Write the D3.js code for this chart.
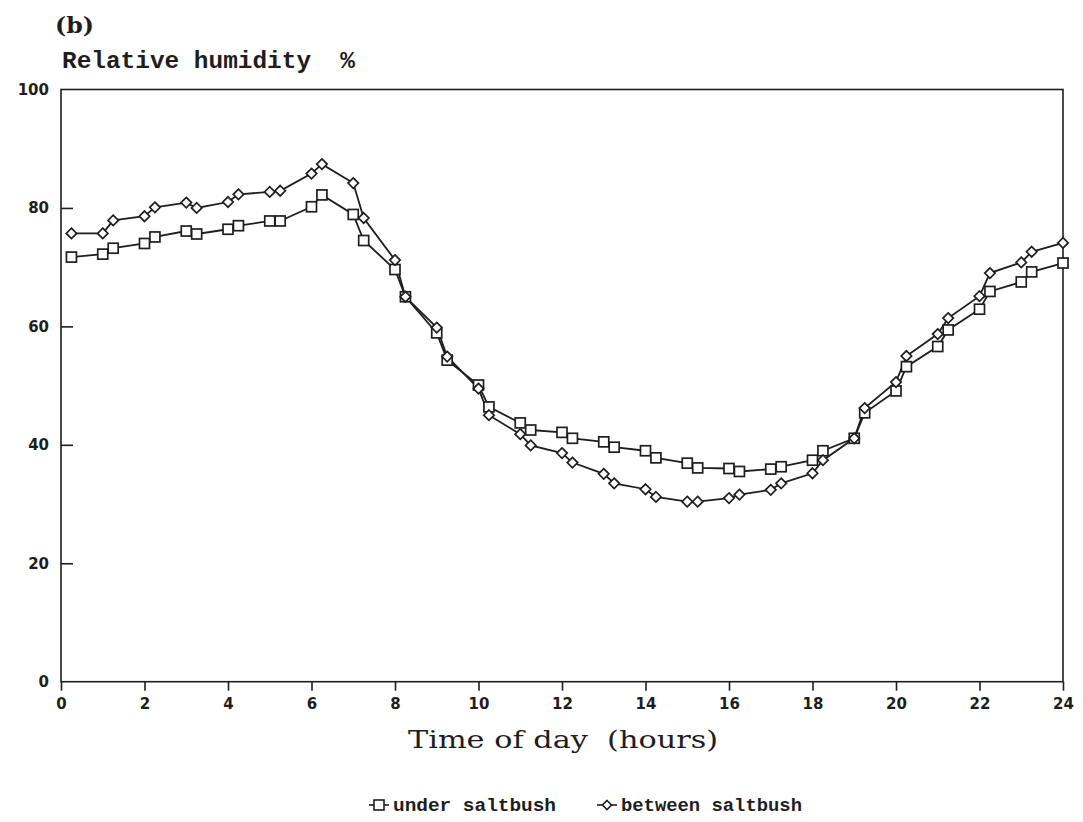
<!DOCTYPE html>
<html>
<head>
<meta charset="utf-8">
<script src="https://cdn.jsdelivr.net/npm/d3@7"></script>
<style>
  body { margin: 0; background: #fff; }
  text { white-space: pre; }
</style>
</head>
<body>
<svg id="chart"></svg>
<script>
// relative humidity under / between saltbush

const hours = [0.25, 1, 1.25, 2, 2.25, 3, 3.25, 4, 4.25, 5, 5.25, 6, 6.25, 7, 7.25, 8,
  8.25, 9, 9.25, 10, 10.25, 11, 11.25, 12, 12.25, 13, 13.25, 14, 14.25, 15, 15.25, 16,
  16.25, 17, 17.25, 18, 18.25, 19, 19.25, 20, 20.25, 21, 21.25, 22, 22.25, 23, 23.25, 24];

const under = [71.7, 72.2, 73.2, 74.0, 75.1, 76.1, 75.6, 76.4, 77.0, 77.8, 77.8, 80.2, 82.2, 78.9, 74.5, 69.6,
  65.0, 58.9, 54.3, 50.1, 46.4, 43.7, 42.5, 42.1, 41.1, 40.5, 39.6, 39.0, 37.8, 36.9, 36.1, 36.0,
  35.5, 35.9, 36.3, 37.4, 39.0, 41.1, 45.4, 49.1, 53.2, 56.6, 59.4, 62.9, 65.9, 67.5, 69.2, 70.7];

const between = [75.7, 75.7, 77.9, 78.6, 80.1, 80.9, 80.0, 81.0, 82.3, 82.7, 82.9, 85.8, 87.4, 84.2, 78.3, 71.2,
  65.0, 59.8, 54.9, 49.5, 45.0, 41.8, 39.9, 38.6, 37.0, 35.1, 33.5, 32.5, 31.2, 30.4, 30.4, 31.0,
  31.6, 32.4, 33.5, 35.2, 37.4, 41.1, 46.2, 50.6, 55.0, 58.7, 61.4, 65.1, 69.0, 70.8, 72.6, 74.1];

const xTicks = [0, 2, 4, 6, 8, 10, 12, 14, 16, 18, 20, 22, 24];
const yTicks = [0, 20, 40, 60, 80, 100];

const W = 1083, H = 822;
const margin = { top: 89.5, right: 20, bottom: 140.3, left: 61 },
      width = W - margin.left - margin.right,
      height = H - margin.top - margin.bottom;

const ink = "#1e1e1e";

const svg = d3.select("#chart")
  .attr("width", W)
  .attr("height", H);

const g = svg.append("g")
  .attr("transform", `translate(${margin.left},${margin.top})`);

const x = d3.scaleLinear().domain([0, 24]).range([0, width]);
const y = d3.scaleLinear().domain([0, 100]).range([height, 0]);

// frame
g.append("rect")
  .attr("width", width)
  .attr("height", height)
  .attr("fill", "none")
  .attr("stroke", ink)
  .attr("stroke-width", 1.6);

// x axis
const xAxis = g.append("g")
  .attr("transform", `translate(0,${height})`)
  .call(d3.axisBottom(x).tickValues(xTicks).tickSize(9).tickPadding(8).tickFormat(d3.format("d")));
xAxis.select(".domain").remove();
xAxis.selectAll("line").attr("stroke", ink).attr("stroke-width", 1.6);
xAxis.selectAll("text")
  .attr("fill", ink)
  .style("font-family", "'DejaVu Sans', sans-serif")
  .style("font-weight", "bold")
  .style("font-size", "15px");

// y axis, ticks pointing inward
const yAxis = g.append("g")
  .call(d3.axisLeft(y).tickValues(yTicks).tickSize(-12).tickPadding(12).tickFormat(d3.format("d")));
yAxis.select(".domain").remove();
yAxis.selectAll("line").attr("stroke", ink).attr("stroke-width", 1.6)
  .filter(d => d === 0 || d === 100).remove();
yAxis.selectAll("text")
  .attr("fill", ink)
  .style("font-family", "'DejaVu Sans', sans-serif")
  .style("font-weight", "bold")
  .style("font-size", "15px");

// lines
const line = d3.line()
  .x((d, i) => x(hours[i]))
  .y(d => y(d));

g.append("path")
  .datum(under)
  .attr("fill", "none")
  .attr("stroke", ink)
  .attr("stroke-width", 1.8)
  .attr("d", line);

g.append("path")
  .datum(between)
  .attr("fill", "none")
  .attr("stroke", ink)
  .attr("stroke-width", 1.8)
  .attr("d", line);

// markers
const sq = 10, dm = 5.2;

g.append("g").selectAll("rect")
  .data(under)
  .join("rect")
  .attr("x", (d, i) => x(hours[i]) - sq / 2)
  .attr("y", d => y(d) - sq / 2)
  .attr("width", sq)
  .attr("height", sq)
  .attr("fill", "#fff")
  .attr("stroke", ink)
  .attr("stroke-width", 1.7);

const diamond = (cx, cy) => `M${cx},${cy - dm}L${cx + dm},${cy}L${cx},${cy + dm}L${cx - dm},${cy}Z`;

g.append("g").selectAll("path")
  .data(between)
  .join("path")
  .attr("d", (d, i) => diamond(x(hours[i]), y(d)))
  .attr("fill", "#fff")
  .attr("stroke", ink)
  .attr("stroke-width", 1.7);

// titles
svg.append("text")
  .attr("x", 55)
  .attr("y", 33)
  .attr("fill", ink)
  .attr("textLength", 39)
  .attr("lengthAdjust", "spacingAndGlyphs")
  .style("font-family", "'DejaVu Serif', serif")
  .style("font-weight", "bold")
  .style("font-size", "22px")
  .text("(b)");

svg.append("text")
  .attr("x", 62)
  .attr("y", 68)
  .attr("fill", ink)
  .attr("textLength", 293)
  .attr("lengthAdjust", "spacingAndGlyphs")
  .style("font-family", "'Liberation Mono', monospace")
  .style("font-weight", "bold")
  .style("font-size", "24px")
  .text("Relative humidity  %");

svg.append("text")
  .attr("x", 408)
  .attr("y", 748)
  .attr("fill", ink)
  .attr("textLength", 310)
  .attr("lengthAdjust", "spacingAndGlyphs")
  .style("font-family", "'DejaVu Serif', serif")
  .style("font-size", "24px")
  .text("Time of day  (hours)");

// legend
const legend = svg.append("g").attr("transform", "translate(0,805)");

const legendItems = [
  { label: "under saltbush", x: 369, len: 163, shape: "square" },
  { label: "between saltbush", x: 597, len: 181, shape: "diamond" }
];

legendItems.forEach(item => {
  const lg = legend.append("g").attr("transform", `translate(${item.x},0)`);
  lg.append("line")
    .attr("x1", 0).attr("x2", 20)
    .attr("y1", 0).attr("y2", 0)
    .attr("stroke", ink)
    .attr("stroke-width", 1.6);
  if (item.shape === "square") {
    lg.append("rect")
      .attr("x", 5).attr("y", -5)
      .attr("width", 10).attr("height", 10)
      .attr("fill", "#fff")
      .attr("stroke", ink)
      .attr("stroke-width", 1.6);
  } else {
    lg.append("path")
      .attr("d", `M10,-4.5L14.5,0L10,4.5L5.5,0Z`)
      .attr("fill", "#fff")
      .attr("stroke", ink)
      .attr("stroke-width", 1.6);
  }
  lg.append("text")
    .attr("x", 24)
    .attr("y", 6)
    .attr("fill", ink)
    .attr("textLength", item.len)
    .attr("lengthAdjust", "spacingAndGlyphs")
    .style("font-family", "'Liberation Mono', monospace")
    .style("font-weight", "bold")
    .style("font-size", "19px")
    .text(item.label);
});
</script>
</body>
</html>
